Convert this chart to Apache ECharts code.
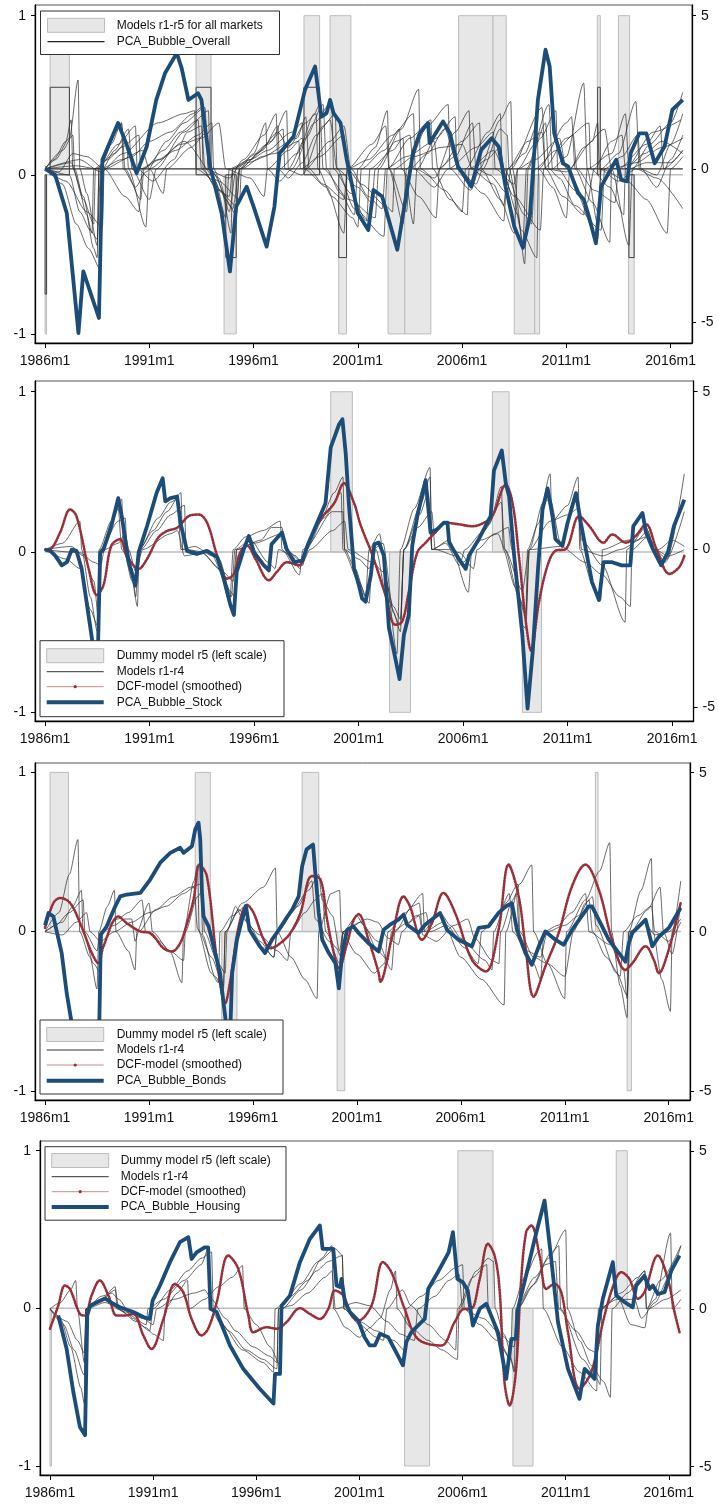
<!DOCTYPE html>
<html><head><meta charset="utf-8">
<script src="https://cdn.jsdelivr.net/npm/echarts@6/dist/echarts.min.js"></script>
<style>html,body{margin:0;padding:0;background:#fff}#c{width:718px;height:1506px}</style>
</head><body><div id="c"></div>
<script>
// ---------- tick labels (x = months since 1986m1) ----------
const tickMonths = [0, 60, 120, 180, 240, 300, 360];
const tickLabels = ['1986m1', '1991m1', '1996m1', '2001m1', '2006m1', '2011m1', '2016m1'];
const leftTicks = [-1, 0, 1];
const rightTicks = [-5, 0, 5];

// ---------- Panel 1: overall ----------
// dummy bars: [startMonth, endMonth, value on left scale]
const overallBars = [[0,0.6,-1],[2.9,14,1],[86.9,95.5,1],[103,110,-1],[149,158,1],[164,176,1],[169,173.5,-1],[197.4,207,-1],[207,222,-1],[238,257.8,1],[257.8,265.4,1],[270,281.8,-1],[281.8,284.6,-1],[317.8,319.5,1],[330,336.4,1],[335.8,339,-1]];
const overallBoxes = [[0,0.6,-0.75],[2.9,14,0.55],[86.9,95.5,0.55],[104,110,-0.52],[149,158,0.55],[169,173.5,-0.52],[318,319.5,0.55],[336,339,-0.52]];
const overallPCA = [[0,0],[5.8,-0.2],[12.5,-1.45],[19.2,-5.36],[20,-5.4],[22,-3.35],[31,-4.87],[33,0.3],[42,1.5],[46.6,0.84],[52.7,-0.14],[58.5,0.73],[64,2.25],[69,3.12],[75.8,3.78],[78.6,3.29],[82.5,2.25],[88,2.47],[90,2.25],[95,0.08],[101.6,-1.45],[106.4,-3.35],[110,-1.23],[116,-0.58],[120,-1.23],[127.5,-2.54],[132,-1.23],[135,0.51],[143,1.06],[149.6,2.58],[155.4,3.34],[159,1.7],[162,1.82],[164,2.25],[166,1.82],[170,1.5],[173.6,0.3],[180,-1.45],[186,-2.0],[189,-0.69],[194,-0.9],[202.7,-2.64],[211.7,0.51],[215.6,1.16],[220.4,1.5],[221.3,0.84],[229,1.55],[233,1.16],[237.6,0.08],[245.3,-0.58],[251,0.62],[257,1.0],[261,0.73],[265,-0.58],[270,-1.88],[275,-2.58],[279,-1.56],[283.6,2.25],[288,3.89],[290.4,3.34],[293,1.16],[298,0.18],[301,0.08],[306.7,-0.79],[310,-1.0],[313,-1.56],[317,-2.43],[320,-0.58],[328.7,0.3],[331.6,-0.36],[335,-0.41],[337,0.51],[342,1.16],[346,1.16],[350.8,0.18],[356.5,0.73],[361,1.93],[367,2.25]];
const overallModel1 = [[0,0],[6,0.3],[14,1.0],[19,2.9],[20,0],[24,-0.8],[30,-2.5],[31,0],[38,0.8],[44,1.5],[45,0],[52,-0.6],[58,-0.1],[70,0.9],[80,1.5],[92,2.0],[94,0],[100,-0.3],[106,-1.4],[110,0],[118,0.3],[130,0.9],[139,1.9],[140,0],[150,1.0],[160,2.1],[162,0],[170,-0.8],[178,-1.5],[180,0],[190,0.7],[197,1.9],[198,0],[206,-1.8],[208,0],[220,1.4],[232,2.1],[233,0],[245,-0.7],[250,0],[262,1.6],[268,2.2],[269,0],[275,-2.4],[277,0],[290,2.1],[292,0],[300,0.4],[310,2.8],[312,0],[318,-1.8],[320,0],[330,0.5],[340,2.2],[342,0],[352,-0.2],[360,0.8],[367,1.8]];
const overallModel2 = [[0,0.1],[10,-0.5],[18,-1.8],[25,-2.6],[32,-3.3],[33,0],[40,0.6],[48,1.3],[50,0],[60,-1.0],[64,0],[80,1.2],[94,1.9],[95,0],[108,-1.3],[112,0],[125,0.6],[134,1.4],[135,0],[145,0.5],[155,1.8],[158,2.1],[160,0],[175,-1.0],[190,-1.6],[192,0],[205,1.3],[215,2.6],[216,0],[230,-0.7],[240,-1.4],[242,0],[255,1.2],[262,1.8],[263,0],[272,-1.5],[276,-3.1],[278,0],[285,1.0],[294,1.9],[295,0],[305,-0.7],[318,-2.3],[320,0],[335,-0.4],[346,-1.0],[358,-2.1],[360,0],[367,0.4]];
const overallModel3 = [[0,0],[5,0.3],[12,0.9],[15,1.6],[16,0],[22,-0.9],[28,-2.6],[30,-2.9],[31,0],[42,1.3],[44,1.5],[46,0],[55,-1.0],[57,0],[68,0.6],[78,1.2],[88,1.6],[90,0],[100,-0.7],[110,-1.2],[112,0],[120,0.5],[127,1.5],[128,0],[135,-0.4],[142,0],[155,1.5],[165,2.2],[166,0],[176,-0.8],[185,-1.7],[187,0],[200,0.6],[206,1.0],[207,-0.2],[212,-1.8],[214,0],[225,1.0],[236,1.7],[237,0],[248,-0.5],[252,0],[262,1.3],[266,1.1],[267,0],[274,-2.0],[283,-2.9],[284,0],[300,1.5],[303,1.7],[305,0],[315,-1.1],[325,-2.4],[326,0],[340,0.2],[355,0.7],[367,1.0]];
const overallModel4 = [[0,0],[12,-0.4],[24,-1.4],[33,-1.9],[34,0],[50,0.4],[60,0.9],[72,1.2],[85,1.8],[90,2.0],[91,0],[98,-0.6],[106,-0.9],[108,0],[122,0.5],[134,1.2],[140,0.7],[150,1.5],[156,1.8],[157,0],[165,-0.9],[177,-1.6],[180,-1.9],[182,0],[195,0.6],[204,1.3],[205,0],[215,-0.9],[225,-1.6],[227,0],[240,0.9],[250,1.5],[251,0],[262,-1.0],[270,-2.1],[272,0],[282,0.8],[288,1.5],[290,0],[296,-0.3],[305,-1.2],[320,-2.0],[322,0],[332,0.4],[341,1.1],[343,0],[352,-0.6],[360,0.3],[367,1.1]];
const overallModel5 = [[0,0],[15,0.2],[22,-1.0],[28,-1.8],[29,0],[40,0.5],[47,0.9],[48,0],[58,-1.9],[60,0],[75,0.6],[88,1.1],[96,1.5],[97,0],[104,-1.0],[110,-1.5],[112,0],[128,0.8],[137,1.3],[138,0],[148,-0.2],[160,1.4],[167,1.8],[168,0],[178,-1.3],[195,-2.2],[197,0],[210,1.0],[222,1.6],[223,0],[233,-1.0],[243,-1.5],[244,0],[258,0.6],[270,-0.9],[285,-2.0],[287,0],[300,1.0],[313,1.5],[314,0],[325,-0.6],[333,-1.5],[334,0],[345,0.5],[355,0.9],[367,0.5]];
const overallModel6 = [[0,0],[10,0.6],[16,1.1],[17,0],[24,-1.5],[27,-2.1],[28,0],[36,0.3],[44,0.7],[54,1.1],[55,0],[65,0.3],[80,0.9],[100,-0.4],[112,-1.0],[113,0],[125,0.4],[145,1.0],[150,1.7],[152,0],[160,-0.5],[172,-1.0],[174,0],[186,0.3],[200,1.1],[212,1.8],[213,0],[224,-0.3],[236,1.2],[244,1.9],[245,0],[258,-0.5],[264,-1.2],[266,0],[276,0.5],[283,1.4],[284,0],[292,-0.6],[300,-1.6],[302,0],[310,0.7],[322,1.3],[326,0],[336,-2.5],[338,0],[348,0.8],[360,1.5],[367,2.5]];
const overallModel7 = [[0,0],[20,0.3],[32,-0.1],[45,0.5],[65,1.5],[80,1.8],[86,1.9],[87,0],[98,-0.4],[104,-1.6],[106,0],[118,0.3],[128,0.6],[142,1.2],[148,1.5],[149,0],[162,-0.6],[172,-2.1],[174,0],[188,0.8],[196,1.4],[198,0],[208,-1.4],[210,0],[220,0.5],[230,1.3],[238,0],[252,-0.8],[264,-1.7],[266,0],[278,0.9],[286,1.2],[288,0],[298,-0.9],[310,-1.5],[312,0],[326,0.5],[334,1.8],[336,0],[346,0.2],[360,0.2],[367,0.6]];
const overallModel8 = [[0,0],[8,-0.1],[16,0.5],[24,0.4],[34,0],[46,-0.9],[54,-1.4],[56,0],[66,0.3],[78,0.8],[90,1.0],[100,1.5],[104,0],[118,-0.3],[126,-0.9],[128,0],[140,0.6],[148,1.0],[150,0],[164,0.9],[172,1.4],[176,0],[186,-0.9],[194,-1.3],[196,0],[208,0.4],[224,0.9],[226,0],[236,0.4],[246,1.5],[248,0],[256,-0.2],[266,-0.8],[268,0],[286,2.0],[288,0],[300,-0.1],[315,0.9],[318,1.5],[319,0],[330,-0.4],[340,0],[352,-0.3],[367,-1.3]];
const overallModel9 = [[0,0],[14,-0.2],[20,-1.4],[26,-2.0],[30,-2.3],[32,0],[44,0.3],[56,0.6],[60,0],[68,-0.8],[70,0],[84,0.7],[93,1.2],[94,0],[102,-0.8],[107,-2.1],[108,0],[116,0.2],[132,0.5],[146,0.9],[147,0],[158,0.4],[172,1.1],[174,0],[182,-0.5],[196,-1.2],[200,-1.4],[201,0],[212,0.4],[228,0.7],[240,0.8],[246,0],[254,0.3],[262,0.7],[264,0],[276,-1.5],[280,-1.8],[282,0],[294,0.6],[304,1.1],[306,0],[316,-0.7],[328,-1.1],[330,0],[346,0.8],[354,1.4],[356,0],[367,0.6]];
const overallModel10 = [[0,0],[18,0.1],[30,0],[42,0.8],[52,1.4],[53,0],[62,-0.4],[74,0.3],[82,1.2],[90,1.4],[92,0],[106,-0.3],[114,0.3],[126,1.1],[133,1.8],[134,0],[140,-0.3],[148,0.2],[156,1.1],[164,1.6],[168,0],[180,-0.6],[188,-1.1],[190,0],[202,0.9],[210,1.1],[212,0],[224,-0.6],[232,0],[248,0.7],[258,1.2],[259,0],[270,-0.5],[272,0],[282,0.3],[296,1.0],[300,0],[312,-1.1],[316,0],[326,0.9],[332,1.1],[334,0],[350,1.2],[366,1.6]];

// ---------- Panel 2: stock ----------
const stockBars = [[164,176.4,1],[197.7,209.8,-1],[256.8,266.4,1],[274,285,-1]];
const stockPCA = [[0,0],[3,-0.04],[5.8,-0.19],[9.6,-0.5],[12.5,-0.4],[15.3,0],[18,-0.04],[21,-0.61],[26,-2.48],[30,-4.0],[31.6,-0.1],[33.5,0],[38,0.74],[42,1.63],[44,1.06],[48,-0.4],[51.8,-1.13],[53.7,-0.09],[58.5,0.74],[64,1.79],[67.5,2.26],[69,1.53],[72,1.63],[75.8,1.68],[77.7,0.85],[81.5,-0.04],[87,-0.14],[93,-0.04],[98.8,-0.24],[101.6,-0.71],[106.4,-1.76],[108.4,-2.07],[110,-0.71],[114,0],[117,0.43],[120,-0.09],[125.6,-0.5],[128.5,-0.66],[130,0.17],[136,0.54],[138.7,0.01],[143,-0.4],[147.7,-0.35],[150.6,0.12],[155,0.69],[161,1.47],[164,3.24],[168.8,3.97],[170.7,4.13],[172.6,3.04],[174.5,1.37],[177.4,-0.61],[180,-1.1],[182,-1.55],[184,-1.65],[187,-0.82],[189,0.17],[191.6,0.22],[194.5,-0.19],[197.4,-2.48],[201,-3.42],[203.5,-4.1],[206,-2.7],[208.8,-2.07],[210.8,0.12],[213.7,1.06],[218.5,2.2],[221.3,0.54],[225,0.64],[229,0.85],[231,0.85],[232,0.22],[237.6,-0.3],[241.5,-0.61],[243.4,-0.19],[249,0.33],[255.8,1.06],[257.7,2.5],[262.2,3.14],[264.5,2.1],[266.4,1.68],[269.3,-0.19],[274,-2.7],[277,-5.04],[280,-3.2],[283,-0.61],[285.6,1.27],[288.5,1.94],[291.3,1.06],[293,0.33],[297,0.12],[300,0.85],[304.8,1.79],[307.6,0.85],[314,-1.03],[318,-1.6],[320.6,-0.4],[325.6,-0.4],[331,-0.5],[336,-0.5],[337.7,0.74],[343,1.16],[345,0.54],[349,0.01],[353.7,-0.5],[357.6,-0.09],[361,0.74],[367,1.58]];
const stockDCF = [[0,0],[3,0.02],[8.6,0.54],[14.4,1.27],[18,1.06],[25,-0.61],[29.7,-1.44],[33.5,-1.13],[38,0.12],[43,0.33],[47,-0.19],[53.7,-0.61],[58.5,-0.3],[65,0.38],[70,0.59],[75.8,0.69],[82.5,1.06],[88.2,1.11],[93,0.85],[98.8,-0.19],[104.5,-0.92],[108.4,-0.77],[112,-0.09],[116,0.12],[120.8,-0.3],[128.5,-0.97],[133,-0.71],[139,-0.4],[145.8,-0.5],[150.6,0.12],[158,0.95],[166,1.47],[171.6,2.1],[177.4,1.47],[181,0.8],[188,-0.19],[195.4,-1.44],[201,-2.38],[205,-2.28],[208.8,-1.34],[213.7,-0.09],[218.5,0.22],[224,0.54],[230,0.85],[237.6,0.8],[245.3,0.74],[252,0.85],[256.8,1.06],[264.5,2.05],[268.4,1.47],[272,-0.19],[276,-2.28],[279,-3.2],[283.6,-1.65],[288.5,-0.5],[293,-0.04],[299,0.02],[306.7,1.06],[312.5,0.74],[320.6,0.22],[325.6,0.48],[333.5,0.22],[339,0.43],[345,0.8],[351,0.02],[358.5,-0.77],[364,-0.56],[367,-0.2]];
const stockModel1 = [[0,0],[10,0.2],[20,0.9],[21,0],[26,-1.5],[30,-2.6],[31,0],[38,0.9],[44,1.6],[45,0],[50,-1.0],[53,-1.8],[54,0],[62,0.6],[70,1.2],[78,1.8],[79,0],[90,-0.1],[100,-0.6],[106,-1.7],[108,0],[115,0.4],[125,0.6],[135,0.9],[136,0],[146,-0.8],[148,0],[158,0.9],[166,1.8],[171,2.3],[172,0],[178,-0.6],[184,-1.5],[186,0],[192,0.5],[196,-1.0],[202,-3.3],[204,0],[212,1.3],[221,2.6],[222,0],[232,0.3],[243,-1.35],[245,0],[255,0.8],[262,2.0],[263,0],[270,-1.2],[276,-2.1],[277,0],[283,0.8],[290,2.4],[291,0.9],[300,1.4],[306,2.3],[307,0],[315,-1.2],[319,-1.6],[320,0],[335,0.3],[340,0.3],[346,0.6],[350,0],[357,-0.3],[367,2.4]];
const stockModel2 = [[0,0],[12,-0.3],[20,-0.6],[26,-1.9],[30,-2.4],[32,0],[40,1.1],[42,1.3],[44,0],[50,-0.6],[52,-1.5],[54,0],[65,1.0],[72,1.5],[76,1.6],[78,0],[86,0.1],[96,-0.2],[104,-1.1],[107,-1.5],[109,0],[118,0.3],[128,-0.4],[132,-0.6],[134,0],[142,-0.2],[146,-0.6],[150,0],[160,1.0],[170,1.8],[171,0],[180,-1.0],[186,-1.7],[188,0],[194,0.2],[200,-2.0],[204,-2.6],[206,0],[216,1.5],[221,2.3],[222,0],[230,0.2],[238,-0.5],[241,0],[252,0.6],[262,1.5],[264,0],[272,-1.5],[276,-2.0],[278,0],[286,1.5],[290,1.6],[296,0.2],[305,1.8],[308,0.3],[320,-0.5],[333,-2.3],[334,0],[345,0.7],[350,0],[356,-0.4],[367,1.2]];
const stockModel3 = [[0,0],[15,0.1],[22,-0.2],[28,-1.0],[31,-2.4],[32,0],[42,0.9],[46,1.0],[47,0],[52,-1.2],[55,0],[64,0.6],[72,1.1],[80,1.4],[81,0],[94,-0.1],[100,-0.3],[106,-1.3],[109,-1.5],[110,0],[124,0.3],[130,0.7],[136,0.7],[138,0],[144,-0.2],[148,-0.5],[150,0.1],[165,1.2],[171,1.2],[172,0],[180,-0.3],[186,-0.6],[190,0],[196,-1.5],[204,-2.4],[206,0],[215,1.1],[220,1.8],[222,0],[232,0],[238,-0.1],[246,-0.6],[248,0],[258,0.5],[266,0.7],[268,0],[274,-2.4],[276,-2.5],[278,0],[290,0.9],[300,1.1],[306,1.3],[308,0],[320,-0.2],[330,0],[345,0.4],[350,0],[358,-0.2],[367,0]];
const stockModel4 = [[0,0],[20,-0.1],[28,-0.4],[32,-0.5],[34,0],[42,0.2],[46,0.5],[48,0],[52,-0.7],[56,0],[72,0.5],[76,0.6],[80,-0.2],[90,-0.1],[102,-0.7],[108,-1.0],[110,0],[120,0.2],[136,0.5],[138,0],[148,-0.4],[152,0],[165,0.6],[172,0.9],[174,0],[188,-0.4],[194,-0.7],[200,-1.8],[204,-2.2],[206,0],[214,0.7],[222,1.2],[224,0],[236,-0.2],[240,-0.4],[250,0.3],[260,0.5],[264,0],[274,-1.3],[278,0],[296,0.1],[310,-0.4],[320,-0.8],[330,-1.5],[336,-1.8],[337,0],[346,0.4],[352,0],[360,0.3],[367,0.1]];

// ---------- Panel 3: bonds ----------
const bondsBars = [[2.9,13.5,1],[86.7,95.4,1],[102,110.8,-1],[148.4,158,1],[168.6,173,-1],[317.7,319.2,1],[336,338.5,-1]];
const bondsPCA = [[0,0.2],[2,0.59],[4.8,0.48],[9.6,-0.67],[12.5,-1.93],[15.4,-2.88],[20,-3.8],[26,-4.3],[30.5,-4.0],[31.4,-2.67],[32.2,-0.09],[35.6,0.17],[40.5,0.8],[43.4,1.11],[47.2,1.17],[55,1.22],[60.7,1.64],[66.5,2.17],[72.3,2.48],[78,2.64],[80,2.48],[84.8,2.69],[86.7,3.22],[88.6,3.43],[89.6,2.9],[90.6,1.22],[91.5,0.48],[94.4,0.17],[97.3,-0.46],[101,-1.3],[104,-2.67],[106,-3.5],[107,-3.0],[108,-1.3],[110.8,-0.25],[113.7,0.38],[116,0.8],[118,0.06],[120.4,-0.15],[124,-0.46],[127,-0.67],[131,-0.25],[135,0.06],[138.7,0.38],[142.6,0.69],[146.4,1.11],[148.4,2.06],[151,2.59],[154.7,2.74],[156,1.85],[158,0.59],[160,-0.25],[163.8,-0.67],[167.6,-0.99],[169.6,-1.78],[171.5,-0.67],[174.4,0.06],[178,0.17],[181,-0.04],[186.7,-0.36],[192.6,-0.62],[195.4,0.06],[199.2,0.22],[204,0.38],[207,0.54],[209,0.22],[215.6,-0.04],[219.4,0.22],[228,0.59],[232,0.06],[238.7,-0.25],[246.4,-0.46],[250.3,0.12],[256,0.17],[261.8,0.59],[266,0.8],[269.5,0.9],[272.4,0.06],[277.3,-0.67],[281,-1.04],[285,-0.46],[288.8,0.01],[294.6,-0.25],[299.4,-0.41],[304.2,0.06],[313.8,0.8],[315.7,0.8],[319.6,0.38],[325.4,-0.25],[335,-0.94],[337,-0.36],[339,-0.04],[346.7,0.38],[350.5,-0.46],[354.4,-0.15],[360.1,0.12],[366.9,0.75]];
const bondsDCF = [[0,0.12],[4.8,0.9],[8.7,1.06],[14.5,0.9],[21,0.17],[27,-0.67],[30.8,-0.99],[33.7,-0.46],[42.4,0.48],[47.2,0.27],[55,0.01],[60.7,-0.04],[68.4,-0.52],[73.2,-0.62],[78,-0.36],[82,0.27],[85.7,1.01],[89.2,2.11],[93.4,1.75],[99.2,-0.88],[104,-2.25],[107,-1.51],[111.8,0.17],[116.6,0.85],[120.4,0.59],[126.2,-0.25],[130,-0.52],[135.8,-0.36],[141.6,-0.04],[147.4,0.59],[154,1.75],[159,1.64],[162.8,0.38],[166.7,-0.67],[169.6,-1.15],[174.4,-0.36],[178.2,0.38],[181,0.55],[186.7,-0.25],[192.6,-1.3],[193.5,-1.57],[200,-0.25],[207,1.11],[210.6,0.8],[217.6,-0.25],[223.3,0.27],[230,1.22],[236.7,0.59],[246.4,-0.88],[254.4,-1.25],[261.8,0.06],[267.6,2.11],[273.4,1.11],[277.3,-0.46],[282,-2.04],[288.8,-1.09],[296.5,-0.04],[304.2,1.43],[311.9,2.11],[319.6,1.33],[327.3,-0.25],[335,-1.2],[339,-0.99],[346.7,-0.46],[351.4,-0.88],[354.3,-1.3],[360,-0.57],[366.9,0.9]];
const bondsModel1 = [[0,0],[8,0.6],[14,1.8],[19,2.9],[20,0],[26,-0.8],[30,-1.8],[31,0],[36,0.8],[40,1.3],[41,0],[48,-0.6],[52,-1.2],[53,0],[60,0.9],[62,0],[72,-0.6],[79,-1.6],[80,0],[86,1.6],[88,2.1],[89,0],[96,-0.8],[103,-1.7],[104,0],[114,0.9],[126,1.4],[133,2.0],[134,0],[142,-0.8],[150,-1.5],[157,-2.1],[158,0],[165,1.2],[170,1.3],[171,0],[180,-0.7],[190,-1.3],[196,-1.0],[198,0],[208,0.6],[218,1.2],[219,0],[230,0.3],[240,-0.8],[252,-1.5],[265,-2.3],[266,0],[274,1.5],[281,2.1],[282,0],[290,-1.0],[300,-2.1],[301,0],[312,1.0],[320,1.9],[326,2.8],[327,0],[332,-1.7],[336,-2.7],[337,0],[344,1.3],[350,2.3],[351,0],[356,-1.5],[361,-2.5],[362,0],[367,1.6]];
const bondsModel2 = [[0,0],[10,0.3],[16,0.8],[21,1.3],[22,0],[28,-1.0],[32,-1.3],[33,0],[40,0.2],[46,0.4],[50,0.4],[52,-0.3],[54,0],[64,0.7],[74,1.1],[84,1.4],[90,1.5],[91,-0.1],[98,-1.4],[103,-1.8],[104,0],[112,0.7],[118,0.2],[124,-0.3],[132,-0.8],[134,0],[142,0.6],[152,1.3],[158,1.8],[160,1.0],[166,0.5],[170,-0.6],[172,0],[182,0.3],[192,-0.3],[200,-1.2],[202,0],[212,0.8],[216,0.9],[218,0],[228,0.6],[234,0.2],[240,-0.2],[254,-0.9],[258,-1.2],[259,0],[266,0.9],[273,1.5],[274,0],[282,-0.8],[290,-1.0],[300,-1.4],[305,0],[312,0.9],[316,1.1],[318,0.2],[330,-1.3],[336,-2.0],[338,0],[348,0.7],[355,1.4],[357,0],[362,-0.7],[367,0.9]];
const bondsModel3 = [[0,0],[6,0.2],[14,0.6],[22,1.0],[23,0],[30,-0.6],[32,0],[42,0.4],[48,0.6],[56,1.0],[58,0],[66,-0.3],[72,-0.6],[80,-0.9],[81,0],[88,1.1],[91,1.3],[92,0],[100,-1.0],[104,-1.3],[105,0],[110,0.8],[114,0.4],[124,-0.1],[134,-0.6],[140,-0.9],[142,0],[150,0.6],[156,1.0],[160,1.2],[162,0],[168,-0.5],[171,-0.8],[172,0],[186,0.4],[192,0.3],[198,-0.2],[204,-0.4],[206,0],[214,0.5],[220,0.6],[222,0],[232,0.2],[242,-0.5],[250,-1.0],[252,0],[262,0.6],[268,1.2],[270,0],[278,-0.6],[286,-0.8],[290,0],[300,0.2],[308,0.5],[314,1.0],[316,0],[324,-0.8],[332,-1.4],[334,0],[342,0.5],[350,0.8],[352,0],[360,-0.3],[367,0.3]];
const bondsModel4 = [[0,0],[10,-0.1],[18,0.3],[24,0.6],[26,0],[32,-0.3],[40,0],[50,0.3],[60,0.6],[70,0.8],[80,1.2],[86,1.4],[88,0.1],[96,-1.3],[100,-1.6],[101,0],[108,0.5],[116,0.8],[118,0],[126,-0.5],[132,-0.8],[134,0],[146,0.8],[154,1.6],[156,0.4],[164,-0.3],[170,-1.0],[172,0],[180,0.5],[184,0.2],[192,-0.6],[198,-0.9],[200,0],[210,0.3],[216,0.5],[218,-0.1],[226,-0.3],[236,0.2],[244,0.4],[248,-0.2],[258,-0.9],[262,-1.0],[263,0],[270,1.0],[272,1.2],[274,-0.2],[282,-1.0],[286,-1.5],[288,0],[296,0.2],[304,0.6],[312,1.2],[314,0],[326,-0.4],[334,-1.2],[336,-2.1],[337,0],[346,0.3],[352,-0.1],[360,0],[367,0.4]];

// ---------- Panel 4: housing ----------
const housingBars = [[0,0.6,-1],[206.3,220.8,-1],[237.3,257.7,1],[269.3,281,-1],[329.4,335.8,1]];
const housingPCA = [[4.8,-0.21],[9.7,-1.27],[13.6,-2.64],[17.4,-3.74],[20.4,-4.0],[21.7,-0.21],[23.3,0.1],[27,0.2],[32,0.33],[36.8,0.16],[40.7,0.05],[48.5,-0.1],[54.3,-0.26],[58,-0.32],[59.7,0.26],[64,0.74],[69.8,1.48],[75.6,2.11],[80.5,2.27],[82.4,1.58],[85.3,1.79],[90,1.95],[92,1.95],[93.4,0],[96.9,-0.1],[104.7,-1.16],[112.4,-1.9],[122,-2.53],[130,-3.0],[130.9,-2.06],[133.8,-2.06],[134.7,0.1],[139.6,0.42],[145.4,1.48],[151.2,2.22],[157,2.64],[158.6,1.9],[164.8,1.9],[166.7,0.74],[168.7,0.69],[169.6,0.95],[171.6,0.21],[174.5,-0.1],[179.3,-0.37],[183,-0.9],[186,-1.16],[189,-1.16],[192,-0.79],[196.8,-0.9],[202.4,-1.48],[205.3,-1.79],[207.3,-1.05],[210.2,-0.74],[214,-0.53],[218,-0.32],[220,0.63],[225.6,1.16],[231.9,1.79],[234.4,2.43],[237,0.95],[240.2,0.84],[243,0.58],[246,-0.53],[250,0],[253.8,0.16],[260.6,-0.74],[265.4,-2.22],[268.4,-0.95],[271,-0.95],[272.2,0],[276,0.84],[282,2.22],[287.7,3.43],[289.6,2.53],[291.6,1.58],[295.5,-0.42],[301.3,-1.9],[308,-2.85],[311,-1.9],[314.9,-2.11],[316.8,-2.22],[318.7,-0.53],[321.6,0.32],[327.4,1.48],[329.4,0.42],[334.3,0.21],[339,0.05],[341,0.74],[345.8,1.05],[348.8,0.63],[350.7,0.74],[353.6,0.47],[357.5,0.53],[361.4,1.21],[366.2,1.69]];
const housingDCF = [[0,-0.63],[4.8,0.1],[8.7,0.74],[11.6,0.63],[17.4,-0.16],[20.4,-0.21],[24.2,0.42],[29,0.9],[34,0.42],[38.8,-0.21],[43.6,-0.21],[48.5,-0.16],[54.3,-0.84],[59,-1.27],[66,-0.32],[72.7,0.79],[77.5,0.53],[82.4,-0.32],[88.2,-0.84],[92,-0.63],[97,0.21],[103.7,1.69],[109.5,1.27],[115.4,-0.21],[118.3,-0.74],[126,-0.58],[131.8,-0.63],[137.6,-0.42],[145.4,0.02],[151.2,-0.16],[157,-0.32],[161.9,0],[165.8,0.58],[170.6,0.42],[175.5,-0.21],[179.3,-0.37],[187,0.1],[193.7,1.48],[198.6,1.16],[206.3,0],[214,-0.95],[227.6,-1.16],[235.4,-0.42],[241,0],[244.9,0],[250,0.95],[254.8,2.06],[258.6,1.69],[261.5,0.63],[264.4,-2.32],[267.4,-3.06],[271,-2.0],[274,0.84],[277,2.43],[280,2.64],[284.8,1.69],[288.7,0.63],[293.5,0.79],[297.4,0.53],[301.3,-0.74],[308,-2.53],[314.9,-2.0],[322.6,-0.21],[328.4,0.84],[332.3,1.16],[337,0.95],[342,0.32],[345.8,0.53],[353.6,1.69],[359.4,0.95],[363.3,-0.1],[366.2,-0.74]];
const housingModel1 = [[0,0],[6,0.2],[12,0.6],[15,0.9],[16,0],[20,-1.7],[21,0],[30,0.3],[38,0.7],[39,0],[46,-0.2],[56,-0.5],[57,0],[66,0.3],[78,0.9],[88,1.4],[92,1.9],[93,0],[100,-0.5],[112,-1.3],[124,-1.7],[130,-2.0],[131,0],[140,0.4],[150,0.9],[158,1.6],[164,2.0],[165,0],[172,-0.6],[180,-0.9],[186,-0.6],[192,-0.3],[198,0.6],[201,1.2],[202,0],[210,-0.6],[220,-1.0],[228,-1.3],[237,-1.6],[238,0],[248,1.2],[255,1.6],[258,1.5],[259,0],[264,-0.8],[271,-2.0],[272,0],[280,0.7],[290,1.6],[300,2.5],[301,0],[308,-1.0],[315,-1.8],[322,-2.3],[326,-2.8],[327,0],[336,0.5],[346,1.2],[347,0],[352,0.3],[361,2.4],[362,0],[367,0.3]];
const housingModel2 = [[0,0],[8,-0.5],[14,-1.3],[20,-2.1],[21,0],[28,0.2],[38,0.6],[40,0],[50,-0.4],[58,-0.7],[60,0],[70,0.6],[80,1.2],[88,1.6],[94,1.8],[95,0],[104,-0.7],[114,-1.3],[124,-1.6],[132,-1.9],[133,0],[146,0.8],[156,1.5],[166,1.9],[170,1.7],[171,0],[180,-0.5],[190,-0.9],[194,-1.0],[196,0],[205,0.6],[210,0.1],[220,-0.5],[230,-1.0],[236,-1.3],[237,0],[246,1.0],[254,1.4],[255,0],[262,-1.1],[268,-1.6],[270,-2.0],[271,0],[282,1.0],[292,1.8],[296,2.0],[297,0],[310,-1.6],[318,-2.2],[320,-2.4],[321,0],[332,0.5],[342,1.0],[346,1.2],[347,0],[355,0.9],[367,2.0]];
const housingModel3 = [[0,0],[6,-0.3],[12,-1.2],[18,-2.5],[20,-3.0],[21,0],[30,0.4],[36,0.5],[40,0.3],[48,-0.3],[56,-0.6],[60,-0.8],[66,-1.0],[67,0],[74,0.5],[80,0.9],[81,0],[90,0.3],[98,0.7],[106,1.0],[112,1.37],[113,0],[120,-0.5],[128,-1.2],[134,-1.8],[135,0],[146,0.6],[155,1.2],[162,1.5],[170,1.69],[171,0],[180,-0.4],[190,-0.7],[200,-1.0],[206,-1.3],[207,0],[216,0.4],[226,0.9],[236,1.3],[240,1.4],[241,0],[250,-0.5],[260,-1.0],[268,-1.6],[269,0],[276,1.0],[284,1.8],[286,1.9],[287,0],[298,-1.2],[308,-2.0],[318,-2.6],[319,0],[330,0.3],[340,0.3],[344,-0.3],[352,0.2],[360,1.0],[367,2.0]];
const housingModel4 = [[0,0],[10,-0.4],[16,-1.0],[20,-1.4],[21,0],[32,0.2],[44,-0.1],[54,-0.3],[60,-0.5],[62,0],[72,0.3],[84,0.5],[90,0.6],[94,0.3],[102,-0.3],[108,-0.7],[118,-1.2],[128,-1.5],[132,-1.7],[133,0],[140,0.1],[150,0.5],[160,1.0],[164,1.2],[166,0],[178,0.2],[186,0.1],[196,-0.4],[204,-0.8],[212,-1.0],[214,0],[224,0.4],[232,0.9],[238,1.1],[240,0],[252,-0.3],[262,-0.8],[270,-1.2],[272,0],[282,0.8],[288,1.4],[294,1.5],[296,0],[306,-0.7],[314,-1.3],[318,-1.4],[320,0],[330,0.4],[338,-0.5],[346,-0.6],[348,0],[358,0.3],[367,0.6]];

const dataSpan = [0, 367];

// ---------- layout / styles ----------
const FONT = 'Liberation Sans, Arial, sans-serif';
const BLUE = '#1c4c78', RED = '#9a2f38', MODEL = '#2e2e2e';
const panels = [
  { grid: {left: 35, top: 5, width: 657, height: 338}, ly: [-1.057, 1.067], ry: [-5.686, 5.35],
    bars: overallBars, boxes: overallBoxes, models: [overallModel1, overallModel2, overallModel3, overallModel4, overallModel5, overallModel6, overallModel7, overallModel8, overallModel9, overallModel10], dcf: null, pca: overallPCA },
  { grid: {left: 35, top: 381, width: 659, height: 340}, ly: [-1.054, 1.067], ry: [-5.43, 5.34],
    bars: stockBars, models: [stockModel1, stockModel2, stockModel3, stockModel4], dcf: stockDCF, pca: stockPCA },
  { grid: {left: 35, top: 763, width: 655, height: 337}, ly: [-1.058, 1.059], ry: [-5.29, 5.305],
    bars: bondsBars, models: [bondsModel1, bondsModel2, bondsModel3, bondsModel4], dcf: bondsDCF, pca: bondsPCA },
  { grid: {left: 40, top: 1141, width: 650, height: 334}, ly: [-1.057, 1.0615], ry: [-5.263, 5.317],
    bars: housingBars, models: [housingModel1, housingModel2, housingModel3, housingModel4], dcf: housingDCF, pca: housingPCA }
];

const grid = [], xAxis = [], yAxis = [], series = [];
const axisLineStyle = {color: '#000', width: 1.3};
const labelStyle = {fontSize: 14, color: '#111', fontFamily: FONT};

function barRender(fill, stroke, filled) {
  return function (params, api) {
    const x0 = api.value(0), x1 = api.value(1), v = api.value(2);
    const p0 = api.coord([x0, 0]);
    const p1 = api.coord([x1, v]);
    const w = Math.max(p1[0] - p0[0], 1.5);
    return {
      type: 'rect',
      shape: {x: p0[0], y: Math.min(p0[1], p1[1]), width: w, height: Math.abs(p1[1] - p0[1])},
      style: filled ? {fill: fill, stroke: stroke, lineWidth: 1} : {fill: 'none', stroke: stroke, lineWidth: 1}
    };
  };
}

panels.forEach((p, i) => {
  grid.push(Object.assign({show: true, borderColor: '#555', borderWidth: 1, backgroundColor: '#fff'}, p.grid));
  xAxis.push({
    gridIndex: i, type: 'value', min: -5.8, max: 372.3,
    axisLine: {show: true, onZero: false, lineStyle: axisLineStyle},
    axisTick: {show: true, customValues: tickMonths, length: 5, lineStyle: {color: '#000', width: 1}},
    axisLabel: Object.assign({customValues: tickMonths, margin: 11,
      formatter: v => tickLabels[tickMonths.indexOf(Math.round(v))] || ''}, labelStyle),
    splitLine: {show: false}
  });
  yAxis.push({
    gridIndex: i, type: 'value', position: 'left', min: p.ly[0], max: p.ly[1],
    axisLine: {show: true, onZero: false, lineStyle: axisLineStyle},
    axisTick: {show: true, customValues: leftTicks, length: 4, lineStyle: {color: '#000'}},
    axisLabel: Object.assign({customValues: leftTicks, margin: 9, formatter: v => String(Math.round(v))}, labelStyle),
    splitLine: {show: false}
  });
  yAxis.push({
    gridIndex: i, type: 'value', position: 'right', min: p.ry[0], max: p.ry[1],
    axisLine: {show: true, onZero: false, lineStyle: axisLineStyle},
    axisTick: {show: true, customValues: rightTicks, length: 4, lineStyle: {color: '#000'}},
    axisLabel: Object.assign({customValues: rightTicks, margin: 9, formatter: v => String(Math.round(v))}, labelStyle),
    splitLine: {show: false}
  });
  const L = 2 * i, R = 2 * i + 1;
  // dummy bars (left scale)
  series.push({type: 'custom', xAxisIndex: i, yAxisIndex: L, z: 1, silent: true, animation: false,
    encode: {x: [0, 1], y: 2}, data: p.bars, renderItem: barRender('#e7e7e7', '#bcbcbc', true)});
  // zero baseline of bars
  series.push({type: 'line', xAxisIndex: i, yAxisIndex: L, z: 2, silent: true, animation: false, symbol: 'none',
    data: [[dataSpan[0], 0], [dataSpan[1], 0]], lineStyle: {color: '#bdbdbd', width: 1.5}});
  if (p.boxes) {
    series.push({type: 'custom', xAxisIndex: i, yAxisIndex: L, z: 3, silent: true, animation: false,
      encode: {x: [0, 1], y: 2}, data: p.boxes, renderItem: barRender('none', '#444', false)});
    series.push({type: 'line', xAxisIndex: i, yAxisIndex: R, z: 3, silent: true, animation: false, symbol: 'none',
      data: [[dataSpan[0], 0], [dataSpan[1], 0]], lineStyle: {color: '#333', width: 1.4}});
  }
  p.models.forEach(m => {
    series.push({type: 'line', xAxisIndex: i, yAxisIndex: R, z: 4, silent: true, animation: false,
      symbol: 'none', smooth: 0.25, smoothMonotone: 'x', data: m, lineStyle: {color: MODEL, width: 0.8, opacity: 0.9}});
  });
  if (p.dcf) {
    series.push({type: 'line', xAxisIndex: i, yAxisIndex: R, z: 5, silent: true, animation: false,
      symbol: 'none', smooth: 0.35, data: p.dcf, lineStyle: {color: '#c98a8f', width: 0.8}});
    series.push({type: 'line', xAxisIndex: i, yAxisIndex: R, z: 5, silent: true, animation: false,
      symbol: 'none', smooth: 0.35, data: p.dcf, lineStyle: {color: RED, width: 2.6, type: [1.4, 1.6], cap: 'round'}});
  }
  series.push({type: 'line', xAxisIndex: i, yAxisIndex: R, z: 6, silent: true, animation: false,
    symbol: 'none', data: p.pca, lineStyle: {color: BLUE, width: 3.8, join: 'round'}});
});

// ---------- legends (graphic) ----------
const graphic = [];
function legendBox(x, y, w, h) {
  graphic.push({type: 'rect', z: 100, shape: {x: x, y: y, width: w, height: h},
    style: {fill: '#fff', stroke: '#333', lineWidth: 1}});
}
function legText(x, y, t) {
  graphic.push({type: 'text', z: 101, x: x, y: y,
    style: {text: t, fill: '#111', font: '12px ' + FONT, verticalAlign: 'middle', textAlign: 'left'}});
}
function legGray(x, y) {
  graphic.push({type: 'rect', z: 101, shape: {x: x, y: y - 7, width: 57, height: 14},
    style: {fill: '#e7e7e7', stroke: '#bcbcbc', lineWidth: 1}});
}
function legLine(x, y, color, width) {
  graphic.push({type: 'line', z: 101, shape: {x1: x, y1: y, x2: x + 57, y2: y},
    style: {stroke: color, lineWidth: width}});
}
function legDCF(x, y) {
  legLine(x, y, '#c98a8f', 1);
  graphic.push({type: 'circle', z: 102, shape: {cx: x + 28.5, cy: y, r: 1.6}, style: {fill: RED}});
}
// panel 1
legendBox(40.5, 11, 239, 43.5);
legGray(47.5, 25.3); legText(116.7, 25.5, 'Models r1-r5 for all markets');
legLine(47.5, 41.7, '#222', 1.2); legText(116.7, 41.7, 'PCA_Bubble_Overall');
// panel 2-4
const legendNames = ['PCA_Bubble_Stock', 'PCA_Bubble_Bonds', 'PCA_Bubble_Housing'];
const legendPos = [[40, 640.7, 244, 76, 46.7, 116.7, [655.7, 671.7, 686.7, 702.3]],
                   [40, 1020, 243, 74, 46.7, 116.7, [1034.5, 1050, 1065, 1080.7]],
                   [45, 1146.7, 241, 73.5, 51.7, 120.7, [1160.5, 1176.7, 1191.7, 1207]]];
legendPos.forEach((lp, k) => {
  legendBox(lp[0], lp[1], lp[2], lp[3]);
  const sx = lp[4], tx = lp[5], ys = lp[6];
  legGray(sx, ys[0]); legText(tx, ys[0], 'Dummy model r5 (left scale)');
  legLine(sx, ys[1], '#333', 1); legText(tx, ys[1], 'Models r1-r4');
  legDCF(sx, ys[2]); legText(tx, ys[2], 'DCF-model (smoothed)');
  legLine(sx, ys[3], BLUE, 4); legText(tx, ys[3], legendNames[k]);
});

const chart = echarts.init(document.getElementById('c'), null, {renderer: 'canvas'});
chart.setOption({animation: false, grid, xAxis, yAxis, series, graphic});
</script>
</body></html>
